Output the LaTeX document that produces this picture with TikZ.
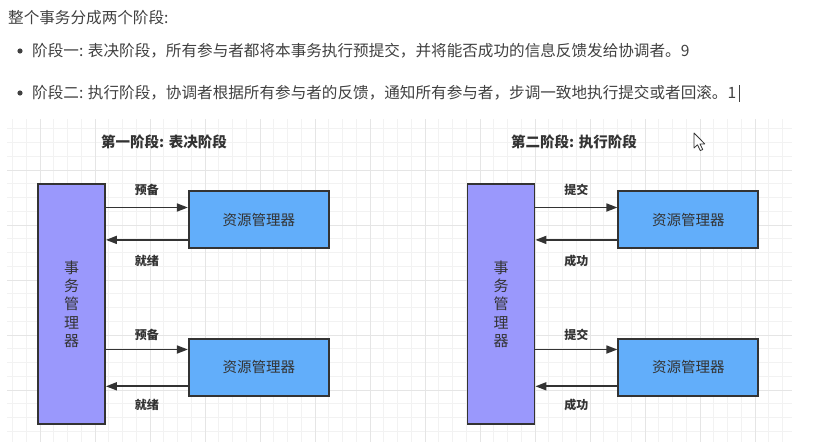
\documentclass[tikz,border=0pt]{standalone}
\usepackage{fontspec}
\newfontfamily\cjk{Noto Sans CJK SC}
\usetikzlibrary{arrows.meta, positioning}
\definecolor{inkgray}{HTML}{333333}
\definecolor{txtgray}{HTML}{404040}
\definecolor{tmpurple}{HTML}{9A98FC}
\definecolor{rmblue}{HTML}{62AEFA}
\definecolor{gridminor}{HTML}{F2F2F2}
\definecolor{gridmajor}{HTML}{E5E5E5}

\begin{document}
\begin{tikzpicture}[x=1pt, y=-1pt,
  tmnode/.style  = {rectangle, draw=inkgray, line width=1.8pt, fill=tmpurple,
                  minimum width=67pt, minimum height=240pt, inner sep=0pt, align=center,
                  text=inkgray, font=\cjk\fontsize{15}{18.3}\selectfont},
  rmnode/.style  = {rectangle, draw=inkgray, line width=1.8pt, fill=rmblue,
                  minimum width=140pt, minimum height=57pt, inner sep=0pt,
                  text=inkgray, font=\cjk\fontsize{14.5}{16}\selectfont},
  toptext/.style = {anchor=west, inner sep=0pt, text=txtgray, font=\cjk\fontsize{15.6}{18}\selectfont},
  ttl/.style     = {inner sep=0pt, text=inkgray, font=\cjk\bfseries\fontsize{14.5}{16}\selectfont},
  lbl/.style     = {inner sep=0pt, text=inkgray, font=\cjk\bfseries\fontsize{12}{14}\selectfont},
  arr/.style     = {-{Triangle[length=11pt, width=8pt]}, line width=1.7pt, color=inkgray},
]
\useasboundingbox (0,0) rectangle (840,442);

%% grid paper
\begin{scope}
  \clip (7,119) rectangle (792,442);
  \foreach \k in {-3,...,56} \draw[gridminor, line width=0.8pt] ({40+13.75*\k},119) -- ++(0,323);
  \foreach \k in {-4,...,20} \draw[gridminor, line width=0.8pt] (7,{170+13.75*\k}) -- ++(785,0);
  \foreach \k in {-1,...,14} \draw[gridmajor, line width=0.9pt] ({40+55*\k},119) -- ++(0,323);
  \foreach \k in {-1,...,5}  \draw[gridmajor, line width=0.9pt] (7,{170+55*\k}) -- ++(785,0);
\end{scope}

%% text above
\node[toptext] (intro) at (8,18) {整个事务分成两个阶段:};
\node[toptext] (item1) at (32,51) {阶段一: 表决阶段，所有参与者都将本事务执行预提交，并将能否成功的信息反馈发给协调者。9};
\node[toptext] (item2) at (32,93) {阶段二: 执行阶段，协调者根据所有参与者的反馈，通知所有参与者，步调一致地执行提交或者回滚。1\,\rule[-3pt]{0.8pt}{17pt}};
\fill[txtgray] (item1.west) ++(-12,0) circle (2.6);
\fill[txtgray] (item2.west) ++(-12,0) circle (2.6);

%% phase one
\node[ttl] (ttl1) at (164,142) {第一阶段: 表决阶段};
\node[tmnode] (tm1) at (71.5,304) {事\\务\\管\\理\\器};
\node[rmnode, below right=7pt and 82pt of tm1.north east, anchor=north west] (rm1a) {资源管理器};
\node[rmnode, below=89pt of rm1a] (rm1b) {资源管理器};

%% phase two
\node[ttl] (ttl2) at (574,142) {第二阶段: 执行阶段};
\node[tmnode] (tm2) at (501,304) {事\\务\\管\\理\\器};
\node[rmnode, below right=7pt and 82pt of tm2.north east, anchor=north west] (rm2a) {资源管理器};
\node[rmnode, below=89pt of rm2a] (rm2b) {资源管理器};

%% arrow ends on the resource managers
\foreach \n in {rm1a, rm2a} {
  \coordinate (\n-go)   at ([yshift=12pt]\n.west);
  \coordinate (\n-back) at ([yshift=-20.4pt]\n.west);
}
\foreach \n in {rm1b, rm2b} {
  \coordinate (\n-go)   at ([yshift=17.8pt]\n.west);
  \coordinate (\n-back) at ([yshift=-19pt]\n.west);
}

\draw[arr] (tm1.east |- rm1a-go) -- node[lbl, yshift=17.7pt]{预备} (rm1a-go);
\draw[arr] (rm1a-back) -- node[lbl, yshift=-21pt]{就绪} (tm1.east |- rm1a-back);
\draw[arr] (tm1.east |- rm1b-go) -- node[lbl, yshift=14.3pt]{预备} (rm1b-go);
\draw[arr] (rm1b-back) -- node[lbl, yshift=-19pt]{就绪} (tm1.east |- rm1b-back);

\draw[arr] (tm2.east |- rm2a-go) -- node[lbl, yshift=17.7pt]{提交} (rm2a-go);
\draw[arr] (rm2a-back) -- node[lbl, yshift=-21pt]{成功} (tm2.east |- rm2a-back);
\draw[arr] (tm2.east |- rm2b-go) -- node[lbl, yshift=14.3pt]{提交} (rm2b-go);
\draw[arr] (rm2b-back) -- node[lbl, yshift=-19pt]{成功} (tm2.east |- rm2b-back);

%% mouse pointer
\draw[fill=white, draw=inkgray, line width=0.8pt, line join=round]
  (694,133) -- ++(0,15) -- ++(3.5,-3.2) -- ++(2.8,5.8) -- ++(2.4,-1.1)
  -- ++(-2.7,-5.6) -- ++(4.8,0) -- cycle;

\end{tikzpicture}
\end{document}
